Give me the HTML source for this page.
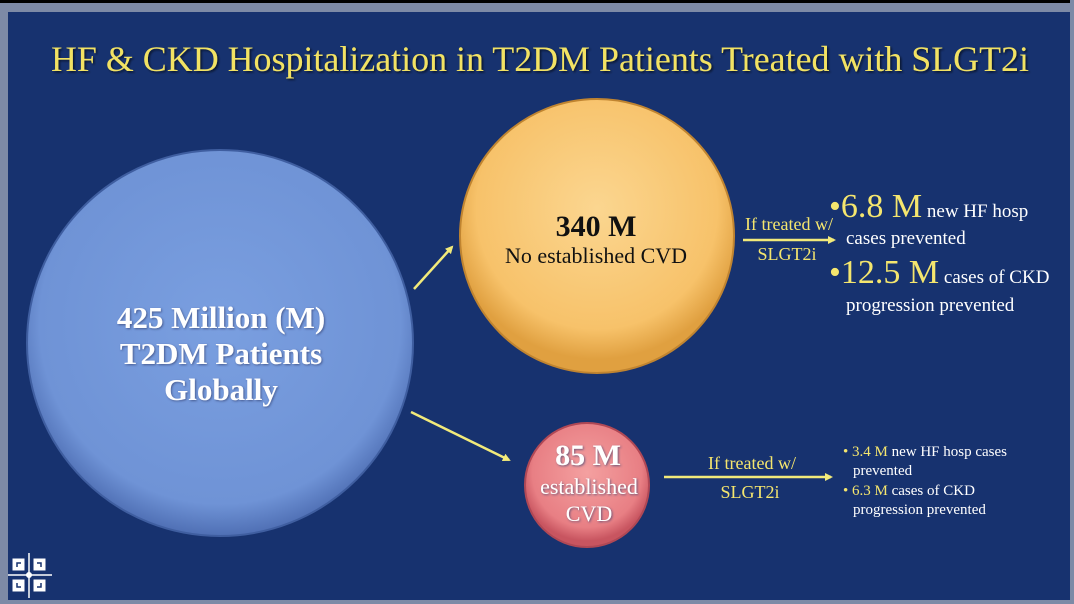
<!DOCTYPE html>
<html><head><meta charset="utf-8"><style>
html,body{margin:0;padding:0;width:1074px;height:604px;overflow:hidden;background:#7d8aa6}
svg{display:block}
text{font-family:"Liberation Serif",serif}
</style></head><body>
<svg width="1074" height="604" viewBox="0 0 1074 604">
<defs>
<radialGradient id="gb" cx="50%" cy="45%" r="55%"><stop offset="0" stop-color="#7a9fe0"/><stop offset="0.85" stop-color="#6f93d6"/><stop offset="1" stop-color="#4f6fb4"/></radialGradient>
<radialGradient id="go" cx="50%" cy="40%" r="55%"><stop offset="0" stop-color="#fbd690"/><stop offset="0.8" stop-color="#f7c26a"/><stop offset="1" stop-color="#e0a040"/></radialGradient>
<radialGradient id="gr" cx="50%" cy="40%" r="55%"><stop offset="0" stop-color="#f4a0a0"/><stop offset="0.8" stop-color="#e87f84"/><stop offset="1" stop-color="#c85560"/></radialGradient>
<marker id="ah" markerWidth="8" markerHeight="8" refX="6" refY="4" orient="auto" markerUnits="userSpaceOnUse"><path d="M0,0 L8,4 L0,8 z" fill="#f2ea7a"/></marker>
<filter id="sh" x="-5%" y="-20%" width="110%" height="140%"><feDropShadow dx="1.5" dy="1.5" stdDeviation="1" flood-color="#000" flood-opacity="0.6"/></filter>
<filter id="sh2" x="-5%" y="-20%" width="110%" height="140%"><feDropShadow dx="1" dy="1" stdDeviation="1" flood-color="#304070" flood-opacity="0.7"/></filter>
</defs>
<rect x="0" y="0" width="1074" height="3" fill="#000"/>
<rect x="8" y="12" width="1062" height="588" fill="#17326f"/>
<text x="540" y="71" text-anchor="middle" font-size="36" fill="#f2e264" textLength="978" lengthAdjust="spacingAndGlyphs" filter="url(#sh)">HF &amp; CKD Hospitalization in T2DM Patients Treated with SLGT2i</text>

<circle cx="220" cy="343" r="193" fill="url(#gb)" stroke="#3f5ea0" stroke-width="2"/>
<g font-weight="bold" font-size="31" fill="#fff" text-anchor="middle" filter="url(#sh2)">
<text x="221" y="328">425 Million (M)</text>
<text x="221" y="364">T2DM Patients</text>
<text x="221" y="400">Globally</text>
</g>

<circle cx="597" cy="236" r="137" fill="url(#go)" stroke="#c08430" stroke-width="2"/>
<text x="596" y="236" text-anchor="middle" font-size="30" font-weight="bold" fill="#111">340 M</text>
<text x="596" y="263" text-anchor="middle" font-size="22" fill="#111">No established CVD</text>

<circle cx="587" cy="485" r="62" fill="url(#gr)" stroke="#b04855" stroke-width="2"/>
<g fill="#fff" text-anchor="middle" filter="url(#sh2)">
<text x="588" y="465" font-size="30" font-weight="bold">85 M</text>
<text x="589" y="494" font-size="22">established</text>
<text x="589" y="521" font-size="22">CVD</text>
</g>

<g stroke="#f2ea7a" stroke-width="2.5" marker-end="url(#ah)">
<line x1="414" y1="289" x2="452" y2="247"/>
<line x1="411" y1="412" x2="509" y2="460"/>
<line x1="743" y1="240" x2="834" y2="240"/>
<line x1="664" y1="477" x2="831" y2="477"/>
</g>

<g fill="#f5e66e" text-anchor="middle" font-size="18">
<text x="789" y="230">If treated w/</text>
<text x="787" y="260">SLGT2i</text>
<text x="752" y="469">If treated w/</text>
<text x="750" y="498">SLGT2i</text>
</g>

<g font-size="19" fill="#fff">
<text x="829" y="217"><tspan fill="#f5e66e" font-size="34">•6.8 M</tspan> new HF hosp</text>
<text x="846" y="244">cases prevented</text>
<text x="829" y="283"><tspan fill="#f5e66e" font-size="34">•12.5 M</tspan> cases of CKD</text>
<text x="846" y="311">progression prevented</text>
</g>
<g font-size="15" fill="#fff">
<text x="843" y="456"><tspan fill="#f5e66e">• 3.4 M</tspan> new HF hosp cases</text>
<text x="853" y="475">prevented</text>
<text x="843" y="495"><tspan fill="#f5e66e">• 6.3 M</tspan> cases of CKD</text>
<text x="853" y="514">progression prevented</text>
</g>

<g fill="#fff" stroke="#fff">
<rect x="13" y="559" width="11" height="11" fill="#fff"/>
<rect x="34" y="559" width="11" height="11" fill="#fff"/>
<rect x="13" y="580" width="11" height="11" fill="#fff"/>
<rect x="34" y="580" width="11" height="11" fill="#fff"/>
<line x1="29" y1="553" x2="29" y2="598" stroke-width="1.5"/>
<line x1="8" y1="575" x2="52" y2="575" stroke-width="1.5"/>
<circle cx="29" cy="575" r="2.5"/>
</g>
<g fill="none" stroke="#17326f" stroke-width="1.5">
<path d="M17,567 V563 H21"/><path d="M41,567 V563 H37"/><path d="M17,583 V587 H21"/><path d="M41,583 V587 H37"/>
</g>
<rect x="1070" y="0" width="4" height="604" fill="#7d8aa6"/>
</svg>
</body></html>
